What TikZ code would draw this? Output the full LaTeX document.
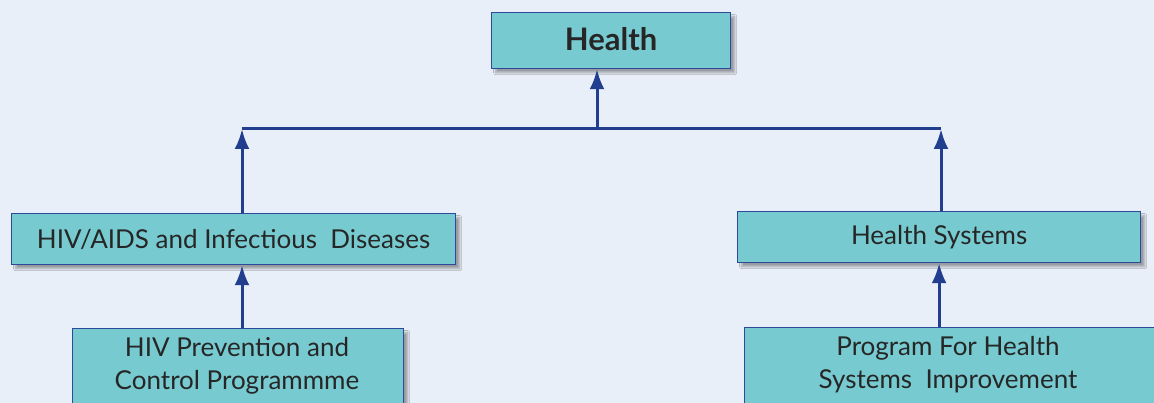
\documentclass[tikz,border=0pt]{standalone}
\usepackage{fontspec}
\setmainfont{Lato}
\usetikzlibrary{arrows.meta,shadows.blur}
\definecolor{bgc}{HTML}{E9EFF8}
\definecolor{boxfill}{HTML}{77CBD0}
\definecolor{boxline}{HTML}{2D4A9A}
\definecolor{arrc}{HTML}{213E8F}
\tikzset{
  box/.style={draw=boxline, line width=1.2pt, fill=boxfill, inner sep=0pt, anchor=north west,
    blur shadow={shadow xshift=4pt, shadow yshift=-4pt, shadow blur steps=8, shadow opacity=35},
    text=black!85, font=\fontsize{26}{31}\selectfont, align=center},
  label/.style={anchor=north, align=center, text=black!85, font=\fontsize{26}{33}\selectfont},
  conn/.style={draw=arrc, line width=3pt},
  arr/.style={conn, -{Latex[length=20pt,width=15pt]}}
}
\begin{document}
\begin{tikzpicture}[x=1pt,y=-1pt]
\clip (0,0) rectangle (1154,403);
\fill[bgc] (0,0) rectangle (1154,403);
\node[box, minimum width=239pt, minimum height=56pt, font=\bfseries\fontsize{31}{34}\selectfont] (health) at (491,12) {\raisebox{3.5pt}{Health}};
\node[box, minimum width=444pt, minimum height=51pt] (hiv) at (11,213) {HIV/AIDS and Infectious\ \ Diseases};
\node[box, minimum width=403pt, minimum height=51pt] (hs) at (737,211) {\raisebox{-2pt}{Health Systems}};
\node[box, minimum width=331pt, minimum height=100pt] (hivp) at (72,328) {};
\node[label] (hivpt) at (237,334) {HIV Prevention and\\Control Programmme};
\node[box, minimum width=420pt, minimum height=100pt] (prog) at (744,327) {};
\node[label] (progt) at (948,333) {Program For Health\\Systems\ \ Improvement};
\coordinate (junL) at (242,129);
\coordinate (junR) at (941,129);
\coordinate (junM) at (597,129);
\draw[conn] (junL) -- (junR);
\draw[arr] (junM) -- (health.south -| junM);
\draw[arr] (hiv.north -| junL) -- (junL);
\draw[arr] (hs.north -| junR) -- (junR);
\draw[arr] (hivp.north -| junL) -- (hiv.south -| junL);
\draw[arr] (prog.north -| hs.south) -- (hs.south);
\end{tikzpicture}
\end{document}
